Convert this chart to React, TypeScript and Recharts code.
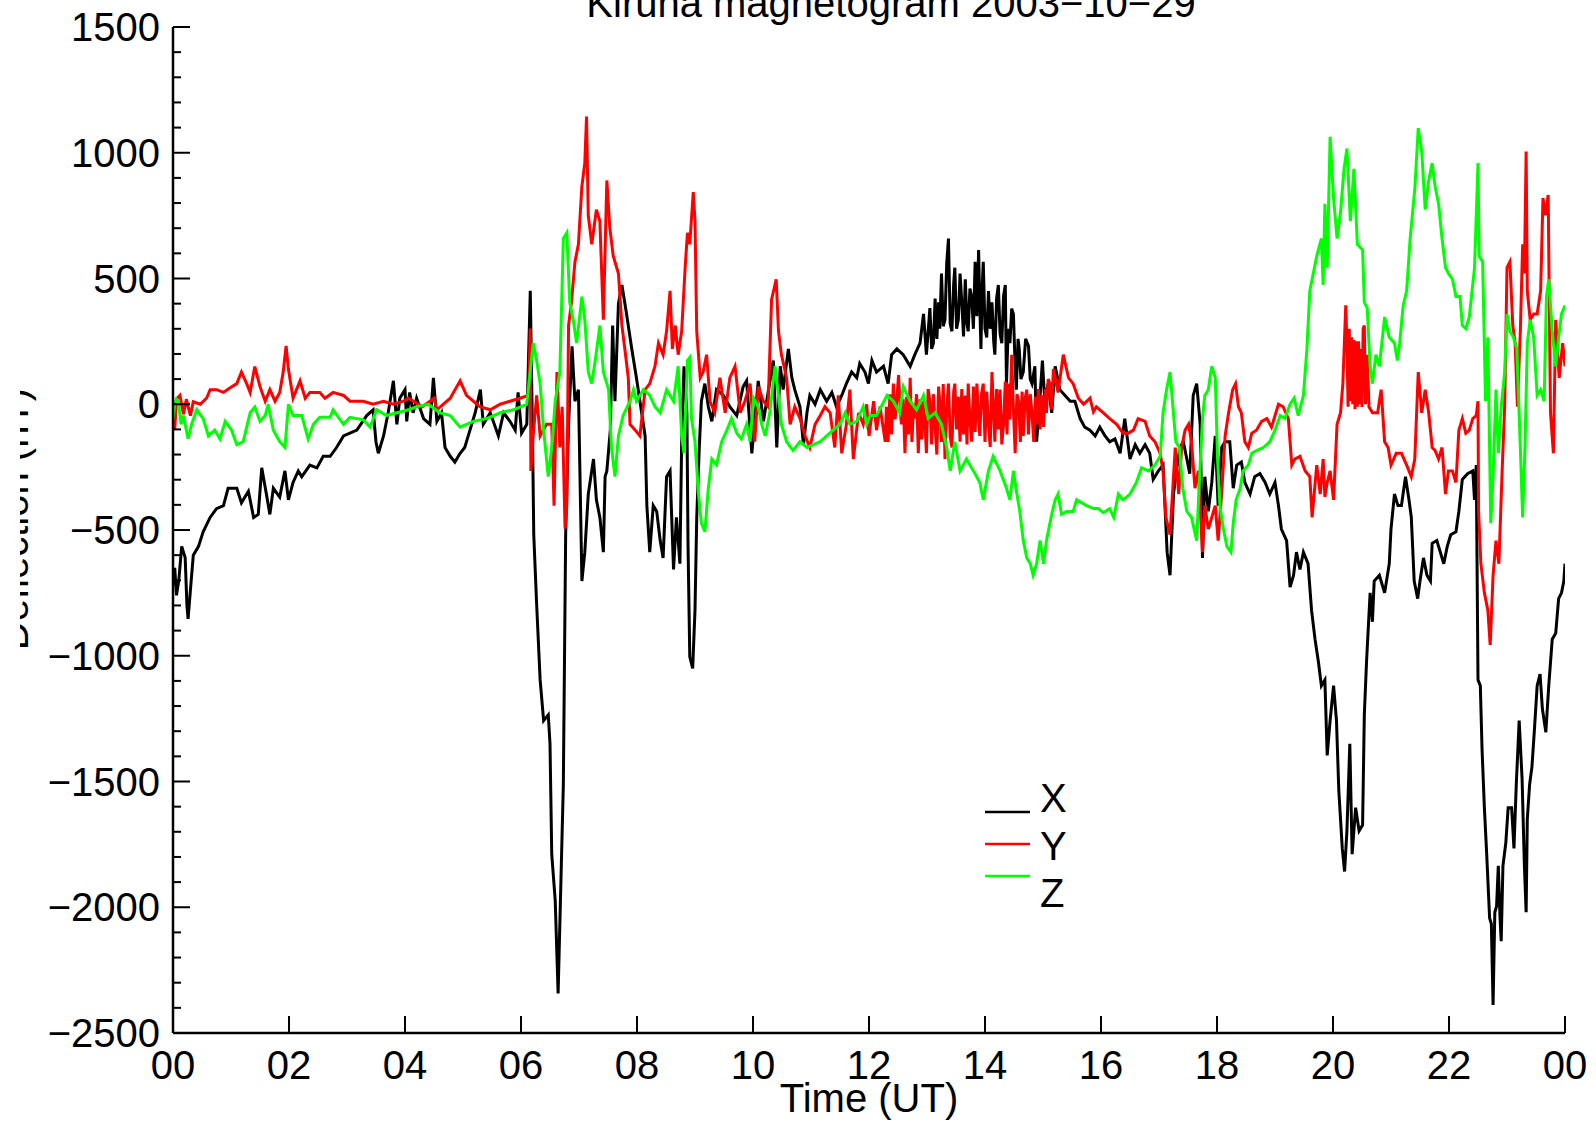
import React from 'react';
import { LineChart, Line, XAxis, YAxis } from 'recharts';

// Kiruna magnetogram 2003-10-29, values in nT, time in hours UT
const X_SERIES: [number, number][] = [
  [0, -720], [0.03, -650], [0.06, -760], [0.1, -700], [0.15, -565], [0.21, -610], [0.24, -800], [0.26, -853], [0.3, -740],
  [0.35, -600], [0.44, -565], [0.52, -507], [0.64, -450], [0.75, -415], [0.87, -403], [0.95, -334], [1.1, -334], [1.18, -392],
  [1.3, -346], [1.39, -450], [1.47, -438], [1.53, -253], [1.61, -357], [1.67, -438], [1.73, -334], [1.84, -369], [1.93, -265],
  [1.99, -380], [2.07, -311], [2.16, -265], [2.22, -288], [2.36, -242], [2.48, -253], [2.59, -207], [2.71, -207], [2.82, -172],
  [2.94, -126], [3.05, -115], [3.17, -103], [3.34, -45], [3.45, -22], [3.5, -150], [3.54, -195], [3.63, -126], [3.71, -34],
  [3.8, 93], [3.86, -80], [3.91, 24], [4.0, 58], [4.03, -68], [4.08, 47], [4.14, -34], [4.2, 24], [4.32, -57], [4.43, -80],
  [4.49, 105], [4.55, -68], [4.63, -34], [4.69, -172], [4.78, -207], [4.86, -230], [4.95, -195], [5.03, -172], [5.12, -103],
  [5.21, -34], [5.3, 58], [5.35, -80], [5.47, -34], [5.61, -126], [5.7, -34], [5.81, -68], [5.9, -103], [5.95, 47], [6.01, -115],
  [6.1, -80], [6.16, 451], [6.2, -149], [6.22, -519], [6.27, -796], [6.33, -1096], [6.39, -1258], [6.47, -1235], [6.5, -1350],
  [6.53, -1789], [6.59, -1973], [6.64, -2343], [6.68, -1973], [6.73, -1512], [6.77, -519], [6.82, -80], [6.88, 230], [6.93, 12],
  [6.99, 58], [7.05, -703], [7.1, -588], [7.16, -357], [7.25, -218], [7.3, -380], [7.36, -450], [7.42, -588], [7.45, -288],
  [7.48, -265], [7.54, -103], [7.58, 313], [7.62, 12], [7.68, 400], [7.74, 474], [7.82, 359], [7.91, 220], [7.99, 105],
  [8.08, -34], [8.14, -126], [8.17, -403], [8.22, -588], [8.28, -403], [8.34, -426], [8.4, -542], [8.45, -611], [8.51, -288],
  [8.57, -265], [8.63, -657], [8.68, -450], [8.74, -634], [8.77, -149], [8.81, 151], [8.86, -34], [8.88, -565], [8.91, -1004],
  [8.96, -1050], [9.0, -819], [9.03, -450], [9.07, -195], [9.11, 12], [9.17, 82], [9.23, -10], [9.29, -68], [9.37, 58],
  [9.49, 35], [9.6, -10], [9.72, -45], [9.83, 70], [9.89, 93], [9.98, -195], [10.09, 93], [10.18, -68], [10.26, 47],
  [10.35, 174], [10.41, -172], [10.47, 151], [10.52, 58], [10.61, 220], [10.67, 105], [10.72, 58], [10.81, -10], [10.87, -161],
  [10.93, -34], [10.98, 35], [11.07, 0], [11.16, 58], [11.27, 12], [11.36, 47], [11.44, -10], [11.53, 35], [11.61, 82],
  [11.7, 128], [11.79, 105], [11.84, 162], [11.93, 128], [11.99, 82], [12.05, 174], [12.13, 128], [12.25, 151], [12.33, 82],
  [12.39, 197], [12.48, 220], [12.59, 197], [12.71, 151], [12.79, 197], [12.88, 243], [12.94, 359], [12.99, 197], [13.05, 382],
  [13.08, 220], [13.11, 243], [13.14, 420], [13.17, 260], [13.2, 405], [13.22, 300], [13.25, 520], [13.28, 310], [13.31, 336],
  [13.34, 560], [13.37, 659], [13.4, 320], [13.43, 290], [13.46, 480], [13.48, 543], [13.51, 300], [13.54, 336], [13.57, 520],
  [13.6, 405], [13.63, 270], [13.66, 497], [13.69, 320], [13.71, 290], [13.74, 460], [13.77, 428], [13.8, 300], [13.83, 566],
  [13.86, 350], [13.89, 613], [13.91, 400], [13.93, 220], [13.95, 450], [13.97, 566], [14.0, 300], [14.03, 266], [14.06, 450],
  [14.09, 300], [14.12, 405], [14.15, 250], [14.17, 197], [14.2, 420], [14.23, 474], [14.26, 280], [14.29, 243], [14.32, 430],
  [14.35, 474], [14.37, 82], [14.4, 300], [14.43, 243], [14.46, 380], [14.49, 359], [14.52, 150], [14.54, 58], [14.57, 260],
  [14.59, 220], [14.62, 100], [14.66, 128], [14.7, 260], [14.75, 231], [14.78, 100], [14.81, 82], [14.86, 151], [14.89, -149],
  [14.95, 35], [14.99, 174], [15.03, 12], [15.09, 82], [15.15, -34], [15.21, 151], [15.29, 58], [15.38, 35], [15.47, 12],
  [15.55, 12], [15.64, -57], [15.72, -91], [15.81, -103], [15.9, -126], [15.98, -91], [16.07, -126], [16.15, -149],
  [16.24, -138], [16.33, -195], [16.41, -57], [16.5, -218], [16.59, -161], [16.67, -195], [16.76, -161], [16.84, -195],
  [16.9, -299], [16.99, -265], [17.07, -242], [17.14, -588], [17.19, -680], [17.25, -357], [17.3, -265], [17.36, -172],
  [17.42, -149], [17.48, -218], [17.53, -276], [17.59, 35], [17.65, 82], [17.71, -80], [17.75, -611], [17.79, -288],
  [17.85, -426], [17.91, -311], [17.97, -126], [18.02, -403], [18.08, -172], [18.14, -149], [18.22, -149], [18.28, -334],
  [18.34, -242], [18.42, -230], [18.48, -311], [18.57, -357], [18.65, -288], [18.74, -276], [18.83, -311], [18.91, -357],
  [19.0, -311], [19.06, -403], [19.11, -496], [19.2, -542], [19.26, -727], [19.32, -680], [19.37, -588], [19.43, -657],
  [19.49, -588], [19.57, -634], [19.63, -819], [19.69, -934], [19.75, -1027], [19.8, -1119], [19.86, -1096], [19.9, -1396],
  [19.95, -1258], [20.01, -1119], [20.06, -1258], [20.1, -1535], [20.16, -1766], [20.2, -1858], [20.24, -1696], [20.29, -1350],
  [20.33, -1789], [20.39, -1604], [20.45, -1696], [20.51, -1673], [20.54, -1235], [20.58, -1015], [20.64, -750], [20.68, -865],
  [20.71, -703], [20.8, -680], [20.89, -750], [20.97, -634], [21.0, -496], [21.06, -357], [21.12, -403], [21.18, -403],
  [21.25, -288], [21.31, -380], [21.35, -450], [21.4, -703], [21.46, -773], [21.5, -703], [21.56, -611], [21.62, -680],
  [21.68, -703], [21.71, -553], [21.79, -542], [21.85, -588], [21.91, -634], [21.97, -565], [22.03, -519], [22.12, -507],
  [22.17, -426], [22.23, -299], [22.32, -276], [22.41, -265], [22.44, -380], [22.47, -242], [22.5, -1096], [22.54, -1119],
  [22.57, -1373], [22.61, -1604], [22.65, -1789], [22.7, -2043], [22.73, -2066], [22.76, -2389], [22.79, -2020], [22.82, -1997],
  [22.85, -1835], [22.88, -2043], [22.9, -2135], [22.93, -1835], [22.98, -1743], [23.02, -1604], [23.08, -1604], [23.12, -1766],
  [23.16, -1512], [23.21, -1258], [23.26, -1489], [23.3, -1835], [23.33, -2020], [23.35, -1650], [23.39, -1512], [23.43, -1442],
  [23.47, -1304], [23.52, -1119], [23.57, -1073], [23.61, -1211], [23.67, -1304], [23.72, -1119], [23.78, -934], [23.84, -911],
  [23.89, -773], [23.94, -750], [23.98, -703], [24.0, -634],
];

const Y_SERIES: [number, number][] = [
  [0, -60], [0.03, -100], [0.06, 20], [0.12, 35], [0.18, -40], [0.23, 20], [0.3, -45], [0.35, 10], [0.47, 0], [0.58, 25],
  [0.64, 58], [0.75, 58], [0.87, 47], [0.98, 65], [1.1, 82], [1.18, 128], [1.27, 82], [1.33, 47], [1.41, 150], [1.5, 70],
  [1.59, 12], [1.67, 58], [1.76, 12], [1.84, 47], [1.9, 128], [1.95, 232], [1.99, 140], [2.07, 24], [2.19, 93], [2.28, 24],
  [2.36, 47], [2.53, 47], [2.62, 24], [2.76, 47], [2.94, 35], [3.05, 12], [3.28, 12], [3.45, 0], [3.63, 12], [3.8, 0],
  [3.97, 12], [4.06, 24], [4.3, -10], [4.5, 24], [4.55, -22], [4.78, 24], [4.95, 93], [5.06, 35], [5.18, 12], [5.29, -10],
  [5.47, -22], [5.64, 0], [5.81, 12], [5.98, 24], [6.13, 35], [6.16, 301], [6.17, -265], [6.21, -126], [6.27, 35],
  [6.33, -126], [6.44, -80], [6.53, -80], [6.57, -403], [6.62, 128], [6.67, -172], [6.71, -10], [6.76, -495], [6.79, -400],
  [6.82, 313], [6.87, 405], [6.93, 566], [6.99, 636], [7.05, 867], [7.1, 959], [7.13, 1144], [7.16, 751], [7.22, 636],
  [7.3, 774], [7.36, 728], [7.42, 336], [7.48, 890], [7.53, 705], [7.59, 590], [7.68, 520], [7.74, 313], [7.79, 220],
  [7.85, 105], [7.88, -80], [7.97, -103], [8.05, -126], [8.14, 58], [8.22, 82], [8.31, 151], [8.37, 243], [8.45, 197],
  [8.51, 290], [8.57, 451], [8.61, 220], [8.66, 313], [8.71, 197], [8.77, 290], [8.83, 543], [8.87, 682], [8.91, 636],
  [8.97, 844], [9.0, 728], [9.03, 290], [9.09, 105], [9.14, 128], [9.2, 197], [9.26, 12], [9.34, -34], [9.43, 105],
  [9.52, -34], [9.6, 105], [9.69, 151], [9.78, -34], [9.86, 12], [9.95, 82], [10.03, -149], [10.09, 70], [10.18, 12],
  [10.26, -10], [10.32, 416], [10.4, 497], [10.44, 290], [10.49, 197], [10.58, 105], [10.64, -80], [10.72, -10], [10.81, -57],
  [10.9, -126], [10.98, -172], [11.07, -80], [11.16, -45], [11.24, -10], [11.33, -34], [11.41, -172], [11.47, 35], [11.53, -195],
  [11.61, -80], [11.67, 58], [11.73, -218], [11.82, -34], [11.9, -80], [11.96, 0], [12.0, -126], [12.08, 12], [12.13, -103],
  [12.19, -10], [12.28, -149], [12.3, -10], [12.33, -150], [12.36, 40], [12.39, -120], [12.42, 82], [12.45, -60], [12.48, 20],
  [12.51, 116], [12.54, -30], [12.56, -80], [12.59, 20], [12.62, -195], [12.65, 30], [12.68, -120], [12.71, 105], [12.74, -150],
  [12.77, 0], [12.79, -57], [12.82, 40], [12.85, -195], [12.88, 20], [12.91, -140], [12.94, 12], [12.97, -100], [12.99, -195],
  [13.02, 60], [13.05, 12], [13.08, -160], [13.11, 40], [13.14, -91], [13.17, -200], [13.2, 70], [13.22, 12], [13.25, -150],
  [13.28, 80], [13.31, -218], [13.34, -20], [13.37, 82], [13.4, -130], [13.43, -172], [13.46, 50], [13.48, 82], [13.51, -100],
  [13.54, 30], [13.57, -149], [13.6, 60], [13.63, -120], [13.66, 35], [13.69, -160], [13.71, 82], [13.74, -60], [13.77, -149],
  [13.8, 70], [13.83, -110], [13.86, 82], [13.89, -60], [13.91, -126], [13.94, 40], [13.97, 82], [14.0, -150], [14.03, 50],
  [14.06, -80], [14.09, -170], [14.12, 128], [14.15, -40], [14.17, -149], [14.2, 60], [14.23, -100], [14.26, 58], [14.29, -160],
  [14.32, -80], [14.35, 90], [14.38, -120], [14.4, 82], [14.43, -60], [14.46, 197], [14.49, -20], [14.52, -195], [14.55, 40],
  [14.58, 12], [14.61, -150], [14.64, 50], [14.66, -126], [14.69, 20], [14.72, 58], [14.75, -120], [14.78, 40], [14.81, -34],
  [14.84, -150], [14.87, 30], [14.89, -80], [14.92, 60], [14.95, -100], [14.98, 35], [15.01, -90], [15.04, 60], [15.06, -34],
  [15.09, 100], [15.12, 82], [15.15, -20], [15.18, 140], [15.26, 47], [15.35, 197], [15.44, 105], [15.52, 82], [15.61, 24],
  [15.7, 0], [15.81, 24], [15.87, -30], [15.92, -10], [16.04, -34], [16.15, -57], [16.27, -80], [16.38, -115], [16.47, -115],
  [16.56, -103], [16.64, -57], [16.76, -68], [16.84, -126], [16.93, -149], [17.02, -195], [17.07, -265], [17.12, -450],
  [17.19, -519], [17.28, -172], [17.34, -357], [17.39, -172], [17.45, -103], [17.51, -80], [17.56, -149], [17.62, -334],
  [17.68, -265], [17.75, -588], [17.79, -403], [17.85, -496], [17.91, -450], [17.97, -403], [18.02, -542], [18.08, -357],
  [18.14, -126], [18.2, -34], [18.27, 58], [18.32, 82], [18.37, -10], [18.42, -34], [18.48, -149], [18.54, -172], [18.6, -115],
  [18.68, -103], [18.77, -68], [18.86, -57], [18.94, -91], [19.06, 0], [19.14, -10], [19.23, -57], [19.29, -242], [19.34, -218],
  [19.43, -207], [19.52, -265], [19.6, -288], [19.64, -450], [19.72, -242], [19.78, -357], [19.83, -218], [19.86, -369],
  [19.9, -311], [19.95, -265], [20.01, -380], [20.07, -80], [20.13, -34], [20.17, 82], [20.22, 393], [20.24, 243], [20.26, -10],
  [20.28, 300], [20.3, 12], [20.32, 266], [20.34, 0], [20.36, 255], [20.38, -20], [20.4, 250], [20.42, -10], [20.44, 250],
  [20.46, 0], [20.48, 220], [20.5, -11], [20.52, 300], [20.54, 313], [20.56, 0], [20.59, 197], [20.62, -10], [20.68, -34],
  [20.77, -34], [20.83, 58], [20.89, -149], [20.95, -172], [21.0, -242], [21.09, -195], [21.18, -195], [21.27, -242],
  [21.35, -288], [21.41, -218], [21.47, 128], [21.53, -34], [21.59, 58], [21.65, -34], [21.71, -172], [21.76, -184],
  [21.82, -218], [21.88, -172], [21.94, -357], [21.99, -265], [22.06, -265], [22.12, -311], [22.17, -103], [22.23, -57],
  [22.29, -115], [22.35, -103], [22.41, -57], [22.47, -45], [22.5, 12], [22.51, -426], [22.55, -634], [22.61, -750],
  [22.67, -819], [22.71, -957], [22.76, -680], [22.81, -542], [22.86, -634], [22.92, -242], [22.96, -10], [23.0, 543],
  [23.05, 566], [23.1, 313], [23.14, 243], [23.18, -10], [23.23, 290], [23.27, 636], [23.3, 520], [23.33, 1005], [23.35, 451],
  [23.4, 336], [23.46, 359], [23.52, 359], [23.58, 451], [23.62, 820], [23.66, 751], [23.71, 832], [23.75, -34], [23.8, -195],
  [23.84, 336], [23.9, 105], [23.96, 243], [24.0, 151],
];

const Z_SERIES: [number, number][] = [
  [0, -57], [0.03, 0], [0.06, 20], [0.09, 12], [0.14, -80], [0.18, -45], [0.26, -138], [0.32, -80], [0.41, -22], [0.52, -57],
  [0.61, -126], [0.72, -103], [0.81, -138], [0.9, -68], [1.01, -103], [1.1, -161], [1.21, -149], [1.33, -34], [1.41, -11],
  [1.5, -68], [1.59, -45], [1.64, 0], [1.73, -103], [1.84, -149], [1.93, -172], [1.99, 0], [2.07, -45], [2.22, -45],
  [2.33, -138], [2.42, -80], [2.53, -52], [2.71, -52], [2.76, -22], [2.94, -80], [3.05, -52], [3.28, -62], [3.4, -91],
  [3.51, -22], [3.68, -45], [3.86, -34], [4.06, -22], [4.2, -10], [4.4, 0], [4.6, -34], [4.78, -45], [4.95, -91], [5.18, -68],
  [5.41, -57], [5.64, -34], [5.87, -22], [6.1, 0], [6.21, 243], [6.27, 174], [6.33, 82], [6.39, -103], [6.47, -288],
  [6.53, -172], [6.59, 12], [6.67, 128], [6.73, 659], [6.79, 682], [6.84, 405], [6.9, 336], [6.96, 243], [7.05, 428],
  [7.1, 336], [7.16, 128], [7.22, 82], [7.28, 174], [7.36, 313], [7.42, 128], [7.51, 58], [7.56, -172], [7.62, -288],
  [7.68, -126], [7.76, -45], [7.88, 12], [7.94, 58], [7.99, 12], [8.11, 58], [8.22, 35], [8.31, -10], [8.4, -34], [8.51, 58],
  [8.63, 12], [8.71, 151], [8.77, -126], [8.81, -195], [8.87, 174], [8.91, 186], [8.94, -57], [9.0, -149], [9.06, -357],
  [9.11, -473], [9.17, -507], [9.23, -334], [9.29, -218], [9.37, -242], [9.46, -149], [9.55, -103], [9.63, -57], [9.72, -115],
  [9.8, -138], [9.89, -80], [9.95, -149], [10.01, 24], [10.09, -10], [10.15, -80], [10.21, -126], [10.29, -34], [10.38, 151],
  [10.44, 35], [10.49, -80], [10.58, -149], [10.69, -184], [10.81, -149], [10.93, -172], [11.04, -161], [11.16, -149],
  [11.27, -126], [11.38, -103], [11.5, -80], [11.59, -34], [11.67, -80], [11.79, -68], [11.9, -10], [11.96, -80], [12.02, -45],
  [12.13, -45], [12.31, 35], [12.42, 12], [12.53, -34], [12.59, 70], [12.71, 12], [12.82, -22], [12.94, 35], [13.02, -57],
  [13.14, -34], [13.25, -80], [13.34, -172], [13.4, -265], [13.48, -149], [13.57, -265], [13.68, -218], [13.8, -265],
  [13.91, -311], [13.97, -380], [14.06, -265], [14.14, -207], [14.26, -265], [14.37, -334], [14.43, -380], [14.49, -265],
  [14.55, -357], [14.6, -426], [14.66, -542], [14.72, -611], [14.78, -634], [14.83, -680], [14.89, -634], [14.95, -542],
  [15.01, -634], [15.06, -542], [15.15, -438], [15.21, -380], [15.26, -357], [15.32, -438], [15.41, -426], [15.52, -426],
  [15.58, -380], [15.67, -392], [15.75, -403], [15.87, -415], [15.95, -415], [16.04, -431], [16.15, -415], [16.22, -450],
  [16.3, -357], [16.38, -380], [16.5, -357], [16.61, -311], [16.7, -253], [16.82, -265], [16.93, -242], [17.02, -207],
  [17.07, -34], [17.13, 58], [17.19, 128], [17.24, -10], [17.29, -149], [17.35, -172], [17.41, -334], [17.48, -426],
  [17.56, -450], [17.65, -542], [17.69, -334], [17.75, -57], [17.79, 35], [17.85, 58], [17.91, 151], [17.97, 105],
  [18.01, -218], [18.05, -403], [18.11, -496], [18.17, -565], [18.24, -588], [18.28, -473], [18.33, -380], [18.4, -334],
  [18.45, -265], [18.54, -242], [18.6, -195], [18.68, -184], [18.8, -172], [18.91, -149], [19.0, -103], [19.09, -45],
  [19.17, -57], [19.26, 0], [19.33, 24], [19.4, -45], [19.49, 35], [19.55, 220], [19.6, 451], [19.66, 520], [19.72, 590],
  [19.8, 659], [19.83, 474], [19.86, 797], [19.9, 543], [19.95, 1063], [20.01, 820], [20.07, 659], [20.13, 763], [20.19, 936],
  [20.24, 1017], [20.3, 728], [20.36, 936], [20.42, 636], [20.51, 613], [20.54, 405], [20.59, 382], [20.64, 151], [20.68, 82],
  [20.74, 197], [20.8, 151], [20.89, 347], [20.97, 266], [21.06, 243], [21.11, 174], [21.15, 243], [21.21, 393], [21.27, 451],
  [21.33, 659], [21.41, 855], [21.47, 1098], [21.53, 1005], [21.59, 774], [21.65, 890], [21.71, 959], [21.76, 867],
  [21.82, 797], [21.88, 659], [21.94, 543], [21.99, 520], [22.06, 497], [22.12, 428], [22.19, 428], [22.23, 313], [22.29, 301],
  [22.35, 347], [22.44, 543], [22.5, 959], [22.52, 590], [22.58, 566], [22.63, 12], [22.67, 266], [22.72, -473], [22.76, -288],
  [22.81, 58], [22.85, -195], [22.9, -10], [22.96, 128], [23.0, 359], [23.05, 290], [23.11, 266], [23.17, 220], [23.23, -172],
  [23.27, -450], [23.31, -172], [23.35, 243], [23.4, 336], [23.46, 266], [23.52, 35], [23.58, 58], [23.64, 12], [23.68, 428],
  [23.72, 497], [23.78, 290], [23.84, 151], [23.89, 266], [23.94, 359], [24.0, 393],
];

const HOUR_TICKS = [0, 2, 4, 6, 8, 10, 12, 14, 16, 18, 20, 22, 24];
const NT_TICKS = Array.from({ length: 41 }, (_, i) => -2500 + i * 100);
const SERIES_NAMES = ['X', 'Y', 'Z'];
const SERIES_COLORS = ['#000000', '#ff0000', '#00ff00'];

const FONT = '"Liberation Sans", Arial, Helvetica, sans-serif';
const toPoints = (arr: [number, number][]) => arr.map(([t, v]) => ({ t, v }));
const hourLabel = (h: number) => String(h % 24).padStart(2, '0');

const BottomTick = (props: any) => {
  const { x, y, payload } = props;
  return (
    <g>
      <line x1={x} x2={x} y1={y} y2={y - 17} stroke="#000" strokeWidth={2} />
      <text x={x} y={y + 46} textAnchor="middle" fontSize={40} fontFamily={FONT} fill="#000">
        {hourLabel(payload.value)}
      </text>
    </g>
  );
};

const TopTick = (props: any) => {
  const { x, y } = props;
  return <line x1={x} x2={x} y1={y} y2={y + 17} stroke="#000" strokeWidth={2} />;
};

const LeftTick = (props: any) => {
  const { x, y, payload } = props;
  const major = payload.value % 500 === 0;
  return (
    <g>
      <line x1={x} x2={x + (major ? 17 : 8)} y1={y} y2={y} stroke="#000" strokeWidth={2} />
      {major && (
        <text x={x - 13} y={y + 14} textAnchor="end" fontSize={40} fontFamily={FONT} fill="#000">
          {String(payload.value).replace('-', '\u2212')}
        </text>
      )}
    </g>
  );
};

const RightTick = (props: any) => {
  const { x, y, payload } = props;
  const major = payload.value % 500 === 0;
  return <line x1={x} x2={x - (major ? 17 : 8)} y1={y} y2={y} stroke="#000" strokeWidth={2} />;
};

const axisLine = { stroke: '#000', strokeWidth: 2.5 };

export default function App() {
  const seriesData = [toPoints(X_SERIES), toPoints(Y_SERIES), toPoints(Z_SERIES)];
  return (
    <div style={{ position: 'absolute', left: 0, top: 0, width: 1596, height: 1123, background: '#fff' }}>
      <LineChart width={1596} height={1123} margin={{ top: 27, right: 31, bottom: 0, left: 0 }}>
        <XAxis
          xAxisId="b" dataKey="t" type="number" domain={[0, 24]} ticks={HOUR_TICKS} interval={0}
          orientation="bottom" height={90} tickSize={0} tickMargin={0} tickLine={false}
          axisLine={axisLine} tick={<BottomTick />} allowDataOverflow
        />
        <XAxis
          xAxisId="t" dataKey="t" type="number" domain={[0, 24]} ticks={HOUR_TICKS} interval={0}
          orientation="top" height={0} tickSize={0} tickMargin={0} tickLine={false}
          axisLine={axisLine} tick={<TopTick />} allowDataOverflow
        />
        <YAxis
          yAxisId="l" type="number" domain={[-2500, 1500]} ticks={NT_TICKS} interval={0}
          orientation="left" width={173} tickSize={0} tickMargin={0} tickLine={false}
          axisLine={axisLine} tick={<LeftTick />} allowDataOverflow
        />
        <YAxis
          yAxisId="r" type="number" domain={[-2500, 1500]} ticks={NT_TICKS} interval={0}
          orientation="right" width={0} tickSize={0} tickMargin={0} tickLine={false}
          axisLine={axisLine} tick={<RightTick />} allowDataOverflow
        />
        {seriesData.map((d, i) => (
          <Line
            key={SERIES_NAMES[i]}
            xAxisId="b"
            yAxisId="l"
            data={d}
            dataKey="v"
            name={SERIES_NAMES[i]}
            type="linear"
            stroke={SERIES_COLORS[i]}
            strokeWidth={3}
            strokeLinejoin="miter"
            dot={false}
            isAnimationActive={false}
          />
        ))}
      </LineChart>
      <svg width={1596} height={1123} style={{ position: 'absolute', left: 0, top: 0, pointerEvents: 'none' }}>
        <defs>
          <clipPath id="ylabClip">
            <rect x={20} y={0} width={60} height={1123} />
          </clipPath>
        </defs>
        <text x={891} y={17} textAnchor="middle" fontSize={40} fontFamily={FONT} fill="#000">
          Kiruna magnetogram 2003{'\u2212'}10{'\u2212'}29
        </text>
        <g clipPath="url(#ylabClip)">
          <text x={28} y={519} transform="rotate(-90 28 519)" textAnchor="middle" fontSize={40} fontFamily={FONT} fill="#000">
            Deflection (nT)
          </text>
        </g>
        <text x={869} y={1112} textAnchor="middle" fontSize={40} fontFamily={FONT} fill="#000">
          Time (UT)
        </text>
        {SERIES_NAMES.map((name, i) => (
          <g key={name}>
            <line x1={985} x2={1030} y1={812 + i * 32} y2={812 + i * 32} stroke={SERIES_COLORS[i]} strokeWidth={2.5} />
            <text x={1040} y={812 + i * 47.5} fontSize={40} fontFamily={FONT} fill="#000">{name}</text>
          </g>
        ))}
      </svg>
    </div>
  );
}
